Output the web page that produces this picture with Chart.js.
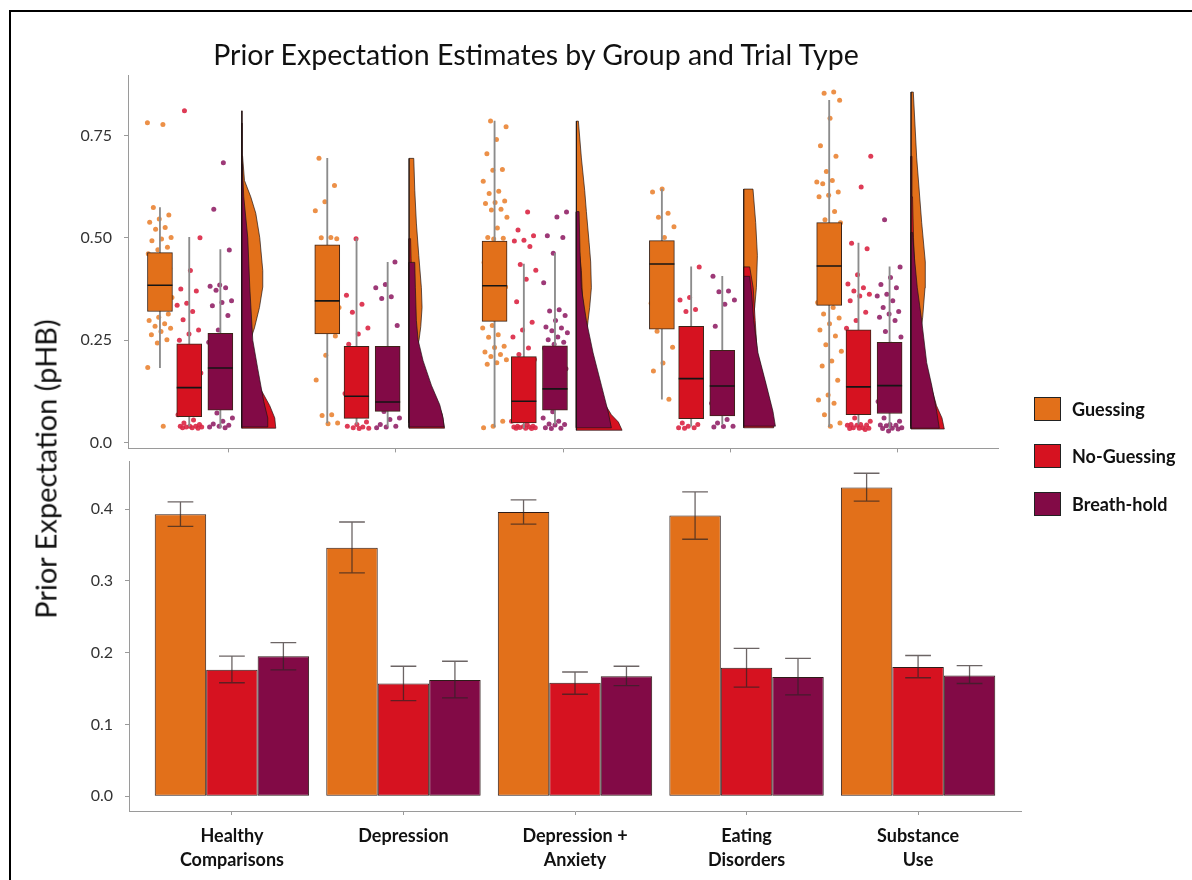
<!DOCTYPE html>
<html>
<head>
<meta charset="utf-8">
<script src="https://cdn.jsdelivr.net/npm/chart.js@4.4.0/dist/chart.umd.min.js"></script>
<style>
  body { margin: 0; background: #fff; }
  #page { position: relative; width: 1192px; height: 880px; overflow: hidden; font-family: Lato, sans-serif; }
  #frame { position: absolute; left: 9px; top: 10px; width: 1300px; height: 1000px; border-left: 2px solid #000; border-top: 2px solid #000; }
  #title { position: absolute; top: 37px; left: 0; width: 1072px; text-align: center; font-size: 28.5px; color: #111; }
  #ytitle { position: absolute; left: 45px; top: 469px; transform: translate(-50%, -50%) rotate(-90deg); font-size: 29px; color: #111; white-space: nowrap; }
  canvas { position: absolute; left: 0; }
  #top { top: 0; }
  #bottom { top: 440px; }
  .leg { position: absolute; left: 1034px; height: 25px; display: flex; align-items: center; }
  .leg span.box { width: 25px; height: 22px; border: 1.5px solid #222; display: inline-block; }
  .leg span.txt { margin-left: 11px; font-size: 18px; font-weight: bold; color: #111; }
</style>
</head>
<body>
<div id="page">
  <div id="frame"></div>
  <canvas id="top" width="1192" height="470"></canvas>
  <canvas id="bottom" width="1192" height="440"></canvas>
  <div id="title">Prior Expectation Estimates by Group and Trial Type</div>
  <div id="ytitle">Prior Expectation (pHB)</div>
  <div id="legend"></div>
</div>
<script>
// groups and conditions
var groupLabels = [['Healthy', 'Comparisons'], ['Depression'], ['Depression +', 'Anxiety'], ['Eating', 'Disorders'], ['Substance', 'Use']];
var groupPos = [1, 2, 3, 4, 5];
var conditions = ['Guessing', 'No-Guessing', 'Breath-hold'];

// tick labels
var topTicks = [0, 0.25, 0.5, 0.75];
var topTickLabels = ['0.0', '0.25', '0.50', '0.75'];
var bottomTicks = [0, 0.1, 0.2, 0.3, 0.4];
var bottomTickLabels = ['0.0', '0.1', '0.2', '0.3', '0.4'];

// bar chart: means and error bar ends
var meanGuess = [0.393, 0.346, 0.396, 0.391, 0.430];
var lowGuess = [0.376, 0.311, 0.379, 0.358, 0.411];
var highGuess = [0.410, 0.382, 0.413, 0.424, 0.450];
var meanNoGuess = [0.176, 0.157, 0.158, 0.179, 0.180];
var lowNoGuess = [0.158, 0.133, 0.142, 0.152, 0.165];
var highNoGuess = [0.195, 0.181, 0.173, 0.206, 0.196];
var meanBreath = [0.195, 0.162, 0.167, 0.166, 0.168];
var lowBreath = [0.176, 0.137, 0.154, 0.141, 0.157];
var highBreath = [0.214, 0.188, 0.181, 0.192, 0.182];

// boxplots: [whisker low, q1, median, q3, whisker high]
var boxGuess = [[0.183, 0.320, 0.384, 0.464, 0.574], [0.048, 0.265, 0.346, 0.483, 0.694], [0.038, 0.296, 0.383, 0.492, 0.785], [0.106, 0.277, 0.436, 0.493, 0.619], [0.039, 0.335, 0.431, 0.537, 0.836]];
var boxNoGuess = [[0.040, 0.063, 0.134, 0.241, 0.501], [0.045, 0.059, 0.113, 0.235, 0.498], [0.035, 0.048, 0.101, 0.210, 0.436], [0.040, 0.058, 0.156, 0.284, 0.429], [0.045, 0.068, 0.136, 0.275, 0.487]];
var boxBreath = [[0.036, 0.079, 0.182, 0.267, 0.471], [0.040, 0.076, 0.099, 0.235, 0.440], [0.045, 0.079, 0.131, 0.236, 0.462], [0.045, 0.065, 0.138, 0.225, 0.406], [0.035, 0.071, 0.139, 0.245, 0.429]];

// individual participants
var ptsGuess = [
  [0.781, 0.777, 0.574, 0.556, 0.546, 0.538, 0.525, 0.521, 0.501, 0.497, 0.493, 0.477, 0.471, 0.461, 0.449, 0.437, 0.425, 0.414, 0.402, 0.386, 0.370, 0.354, 0.342, 0.330, 0.314, 0.306, 0.298, 0.290, 0.284, 0.279, 0.271, 0.263, 0.251, 0.243, 0.183, 0.040],
  [0.694, 0.628, 0.588, 0.566, 0.501, 0.500, 0.498, 0.45, 0.42, 0.39, 0.36, 0.33, 0.30, 0.28, 0.26, 0.213, 0.153, 0.068, 0.066, 0.048, 0.046],
  [0.785, 0.771, 0.740, 0.705, 0.667, 0.665, 0.638, 0.614, 0.608, 0.590, 0.586, 0.584, 0.570, 0.568, 0.550, 0.524, 0.501, 0.499, 0.497, 0.44, 0.42, 0.40, 0.38, 0.36, 0.33, 0.31, 0.286, 0.28, 0.263, 0.257, 0.235, 0.232, 0.221, 0.215, 0.210, 0.202, 0.195, 0.191, 0.052, 0.040, 0.036],
  [0.619, 0.612, 0.560, 0.550, 0.527, 0.501, 0.46, 0.42, 0.38, 0.34, 0.30, 0.272, 0.233, 0.194, 0.175, 0.106],
  [0.856, 0.853, 0.836, 0.792, 0.725, 0.699, 0.662, 0.636, 0.640, 0.632, 0.612, 0.604, 0.600, 0.564, 0.544, 0.537, 0.49, 0.46, 0.42, 0.38, 0.342, 0.330, 0.314, 0.304, 0.29, 0.275, 0.26, 0.239, 0.223, 0.199, 0.187, 0.152, 0.116, 0.104, 0.096, 0.068, 0.048, 0.040]
];
var ptsNoGuess = [
  [0.81, 0.50, 0.42, 0.375, 0.37, 0.34, 0.335, 0.32, 0.30, 0.275, 0.265, 0.25, 0.22, 0.19, 0.17, 0.14, 0.12, 0.10, 0.08, 0.068, 0.055, 0.048, 0.044, 0.04, 0.04, 0.04, 0.038, 0.038, 0.036, 0.036, 0.035],
  [0.498, 0.36, 0.338, 0.318, 0.28, 0.265, 0.24, 0.2, 0.15, 0.12, 0.1, 0.07, 0.05, 0.044, 0.04, 0.038, 0.036, 0.035, 0.034],
  [0.563, 0.519, 0.505, 0.494, 0.492, 0.479, 0.435, 0.421, 0.399, 0.344, 0.294, 0.275, 0.258, 0.231, 0.215, 0.203, 0.17, 0.14, 0.11, 0.08, 0.052, 0.044, 0.04, 0.04, 0.039, 0.038, 0.038, 0.037, 0.036, 0.035, 0.035, 0.034],
  [0.429, 0.354, 0.348, 0.325, 0.320, 0.22, 0.14, 0.048, 0.044, 0.04, 0.036, 0.036, 0.035],
  [0.699, 0.624, 0.487, 0.473, 0.410, 0.387, 0.378, 0.370, 0.362, 0.358, 0.346, 0.318, 0.298, 0.279, 0.26, 0.22, 0.18, 0.14, 0.10, 0.08, 0.06, 0.052, 0.044, 0.044, 0.043, 0.042, 0.042, 0.036, 0.036, 0.035, 0.035, 0.034, 0.032]
];
var ptsBreath = [
  [0.683, 0.57, 0.47, 0.385, 0.382, 0.378, 0.372, 0.346, 0.342, 0.334, 0.31, 0.275, 0.245, 0.22, 0.19, 0.17, 0.14, 0.11, 0.09, 0.072, 0.06, 0.052, 0.045, 0.042, 0.04, 0.038, 0.036],
  [0.441, 0.386, 0.378, 0.356, 0.352, 0.286, 0.2, 0.15, 0.1, 0.076, 0.06, 0.056, 0.044, 0.04, 0.038, 0.036],
  [0.563, 0.551, 0.505, 0.501, 0.462, 0.390, 0.324, 0.321, 0.310, 0.298, 0.282, 0.280, 0.273, 0.268, 0.258, 0.251, 0.245, 0.24, 0.23, 0.22, 0.20, 0.18, 0.15, 0.12, 0.09, 0.075, 0.06, 0.052, 0.045, 0.044, 0.043, 0.036, 0.035, 0.034],
  [0.406, 0.370, 0.368, 0.348, 0.338, 0.284, 0.152, 0.112, 0.096, 0.056, 0.048, 0.040, 0.039, 0.038],
  [0.544, 0.429, 0.403, 0.386, 0.378, 0.362, 0.358, 0.346, 0.330, 0.320, 0.314, 0.306, 0.298, 0.271, 0.258, 0.24, 0.21, 0.17, 0.13, 0.10, 0.08, 0.06, 0.052, 0.044, 0.043, 0.042, 0.041, 0.036, 0.035, 0.034, 0.033, 0.028]
];

// half-violin density profiles: [value, density]
var violinGuess = [
  [[0.04, 1], [0.15, 3], [0.22, 7], [0.26, 10], [0.28, 12.7], [0.33, 17.7], [0.38, 21], [0.42, 21], [0.5, 18], [0.56, 14], [0.6, 9], [0.64, 2.7], [0.7, 0.8], [0.78, 0.3]],
  [[0.048, 1], [0.15, 3], [0.22, 7], [0.251, 10], [0.283, 11.7], [0.33, 13], [0.378, 12.3], [0.457, 9.7], [0.536, 7.3], [0.616, 5.7], [0.694, 4.7]],
  [[0.036, 1], [0.15, 4], [0.22, 8], [0.275, 10.7], [0.298, 11.7], [0.33, 13.3], [0.378, 15], [0.441, 14.3], [0.489, 12.7], [0.564, 10], [0.616, 8.3], [0.695, 5], [0.785, 2]],
  [[0.106, 1], [0.2, 4], [0.28, 8], [0.33, 11], [0.378, 12.7], [0.457, 13.7], [0.537, 12], [0.619, 9.3]],
  [[0.04, 1], [0.15, 4], [0.24, 8], [0.306, 11.7], [0.378, 14], [0.441, 14.3], [0.537, 10.7], [0.695, 5.7], [0.856, 2.3]]
];
var violinNoGuess = [
  [[0.035, 34], [0.06, 33], [0.09, 28], [0.13, 19], [0.18, 12], [0.25, 7], [0.35, 4], [0.45, 2], [0.55, 1], [0.7, 0.5], [0.81, 0.3]],
  [[0.035, 35.5], [0.07, 33], [0.1, 28], [0.14, 20], [0.2, 12], [0.25, 7], [0.35, 3], [0.45, 2], [0.498, 1.5]],
  [[0.03, 45.7], [0.05, 42], [0.068, 35], [0.1, 27], [0.15, 20], [0.22, 13], [0.3, 8], [0.36, 6], [0.42, 5], [0.47, 3], [0.52, 1.5], [0.563, 0.8]],
  [[0.036, 30], [0.08, 28], [0.15, 21], [0.219, 13.5], [0.298, 11.5], [0.378, 9.5], [0.429, 6]],
  [[0.033, 33.3], [0.06, 31], [0.09, 25.5], [0.13, 21], [0.2, 14], [0.3, 8], [0.4, 4], [0.5, 2.5], [0.6, 1.5], [0.699, 1]]
];
var violinBreath = [
  [[0.038, 26], [0.06, 26], [0.1, 22], [0.18, 16], [0.25, 11], [0.38, 8], [0.5, 6], [0.6, 2], [0.68, 0.5]],
  [[0.038, 35], [0.06, 34], [0.092, 30.7], [0.14, 22.3], [0.2, 14], [0.251, 9], [0.298, 7.3], [0.378, 6.3], [0.44, 5.7]],
  [[0.036, 35], [0.076, 31.7], [0.14, 25], [0.219, 16.7], [0.298, 10], [0.378, 5], [0.457, 3.7], [0.564, 2.7]],
  [[0.04, 31.7], [0.076, 29.3], [0.14, 22.7], [0.219, 14.3], [0.298, 10], [0.36, 8], [0.406, 6]],
  [[0.035, 28.3], [0.076, 25.7], [0.14, 20.7], [0.195, 15.7], [0.298, 10.7], [0.378, 6.3], [0.45, 3.5], [0.513, 1.5]]
];

var fills = ['#E2701A', '#D61220', '#820A46'];
var pointColors = ['rgba(234,132,52,0.9)', 'rgba(218,38,68,0.9)', 'rgba(146,36,104,0.9)'];

Chart.defaults.font.family = 'Lato, sans-serif';
Chart.defaults.color = '#333';

var boxes = [boxGuess, boxNoGuess, boxBreath];
var points = [ptsGuess, ptsNoGuess, ptsBreath];
var violins = [violinGuess, violinNoGuess, violinBreath];
var boxOffset = [-0.409, -0.234, -0.048];   // x shift of each box from the group tick
var violinBase = 0.080;
var densityScale = 1 / 167.3;
var jitterHalf = 0.075;

function axisGrid() {
  return { display: true, drawOnChartArea: false, drawTicks: true, tickLength: 4, color: '#9a9a9a', offset: false };
}

// ---------- top panel: rainclouds ----------
var topSets = [];
for (var j = 0; j < 3; j++) {
  var whisk = [], box = [], med = [], pts = [];
  for (var i = 0; i < groupPos.length; i++) {
    var x = groupPos[i] + boxOffset[j];
    var b = boxes[j][i];
    whisk.push({ x: x, y: [b[0], b[4]] });
    box.push({ x: x, y: [b[1], b[3]] });
    med.push({ x: x, y: b[2] });
    points[j][i].forEach(function (v, n) {
      var jit = ((n * 0.618034 + j * 0.31 + i * 0.17) % 1 - 0.5) * 2 * jitterHalf;
      pts.push({ x: x + jit, y: v });
    });
    // half violin
    var base = groupPos[i] + violinBase;
    var prof = violins[j][i];
    var poly = prof.map(function (p) { return { x: base + p[1] * densityScale, y: p[0] }; });
    poly.push({ x: base, y: prof[prof.length - 1][0] });
    poly.push({ x: base, y: prof[0][0] });
    poly.push(poly[0]);
    topSets.push({
      type: 'line', data: poly, fill: 'shape', backgroundColor: fills[j],
      borderColor: 'rgba(30,20,20,0.85)', borderWidth: 0.8, pointRadius: 0, order: 6 - j
    });
  }
  topSets.push({ type: 'bar', data: whisk, backgroundColor: '#8c8c8c', barThickness: 1.2, maxBarThickness: 1.2, grouped: false, order: 2 });
  topSets.push({ type: 'bar', data: box, backgroundColor: fills[j], borderColor: '#3c2418', borderWidth: 1, borderSkipped: false, barThickness: 25, maxBarThickness: 25, grouped: false, order: 1 });
  topSets.push({ type: 'scatter', data: med, pointStyle: 'line', pointRadius: 12.5, borderColor: '#151515', pointBorderColor: '#151515', borderWidth: 1.6, pointBorderWidth: 1.6, order: 0 });
  topSets.push({ type: 'scatter', data: pts, pointRadius: 2.5, backgroundColor: pointColors[j], pointBackgroundColor: pointColors[j], borderWidth: 0, pointBorderWidth: 0, order: 3 });
}

new Chart(document.getElementById('top'), {
  type: 'scatter',
  data: { datasets: topSets },
  options: {
    responsive: false, animation: false, events: [],
    layout: { padding: { top: 75, right: 194, left: 0, bottom: 0 } },
    plugins: { legend: { display: false }, tooltip: { enabled: false } },
    scales: {
      x: {
        type: 'linear', min: 0.4, max: 5.6, offset: false,
        afterBuildTicks: function (s) { s.ticks = groupPos.map(function (v) { return { value: v }; }); },
        ticks: { display: false },
        grid: axisGrid(),
        border: { display: true, color: '#9a9a9a', width: 1 },
        afterFit: function (s) { s.height = 12; }
      },
      y: {
        type: 'linear', min: -0.0143, max: 0.8976,
        afterBuildTicks: function (s) { s.ticks = topTicks.map(function (v) { return { value: v }; }); },
        ticks: { callback: function (v, i) { return topTickLabels[i]; }, font: { size: 16 }, color: '#333', padding: 12 },
        grid: axisGrid(),
        border: { display: true, color: '#9a9a9a', width: 1 },
        afterFit: function (s) { s.width = 128; }
      }
    }
  }
});

// ---------- bottom panel: mean bars ----------
var errorBars = {
  id: 'errorBars',
  afterDatasetsDraw: function (chart) {
    var ctx = chart.ctx, y = chart.scales.y;
    chart.data.datasets.forEach(function (ds, j) {
      chart.getDatasetMeta(j).data.forEach(function (bar, i) {
        var lo = y.getPixelForValue(ds.errLow[i]);
        var hi = y.getPixelForValue(ds.errHigh[i]);
        var cap = bar.width * 0.25;
        ctx.save();
        ctx.strokeStyle = 'rgba(45,35,35,0.7)';
        ctx.lineWidth = 1.3;
        ctx.beginPath();
        ctx.moveTo(bar.x, lo); ctx.lineTo(bar.x, hi);
        ctx.moveTo(bar.x - cap, lo); ctx.lineTo(bar.x + cap, lo);
        ctx.moveTo(bar.x - cap, hi); ctx.lineTo(bar.x + cap, hi);
        ctx.stroke();
        ctx.restore();
      });
    });
  }
};

var means = [meanGuess, meanNoGuess, meanBreath];
var lows = [lowGuess, lowNoGuess, lowBreath];
var highs = [highGuess, highNoGuess, highBreath];

new Chart(document.getElementById('bottom'), {
  type: 'bar',
  data: {
    datasets: conditions.map(function (c, j) {
      return {
        label: c,
        data: groupPos.map(function (x, i) { return { x: x, y: means[j][i] }; }),
        errLow: lows[j], errHigh: highs[j],
        backgroundColor: fills[j], borderColor: '#2e1c18', borderWidth: 1, borderSkipped: false,
        categoryPercentage: 0.9, barPercentage: 1.0
      };
    })
  },
  options: {
    responsive: false, animation: false, events: [],
    layout: { padding: { top: 18, right: 171, left: 0, bottom: 0 } },
    plugins: { legend: { display: false }, tooltip: { enabled: false } },
    scales: {
      x: {
        type: 'linear', min: 0.4, max: 5.6, offset: false,
        afterBuildTicks: function (s) { s.ticks = groupPos.map(function (v) { return { value: v }; }); },
        ticks: { callback: function (v, i) { return groupLabels[i]; }, font: { size: 18, weight: 'bold', lineHeight: 1.35 }, color: '#111', padding: 9, maxRotation: 0, autoSkip: false },
        grid: axisGrid(),
        border: { display: true, color: '#9a9a9a', width: 1 },
        afterFit: function (s) { s.height = 69; }
      },
      y: {
        type: 'linear', min: -0.0207, max: 0.4662,
        afterBuildTicks: function (s) { s.ticks = bottomTicks.map(function (v) { return { value: v }; }); },
        ticks: { callback: function (v, i) { return bottomTickLabels[i]; }, font: { size: 16 }, color: '#333', padding: 12 },
        grid: axisGrid(),
        border: { display: true, color: '#9a9a9a', width: 1 },
        afterFit: function (s) { s.width = 129; }
      }
    }
  },
  plugins: [errorBars]
});

// legend
var legend = document.getElementById('legend');
var legendTop = [396, 443, 491];
conditions.forEach(function (c, j) {
  var row = document.createElement('div');
  row.className = 'leg';
  row.style.top = legendTop[j] + 'px';
  row.innerHTML = '<span class="box" style="background:' + fills[j] + '"></span><span class="txt">' + c + '</span>';
  legend.appendChild(row);
});
</script>
</body>
</html>
